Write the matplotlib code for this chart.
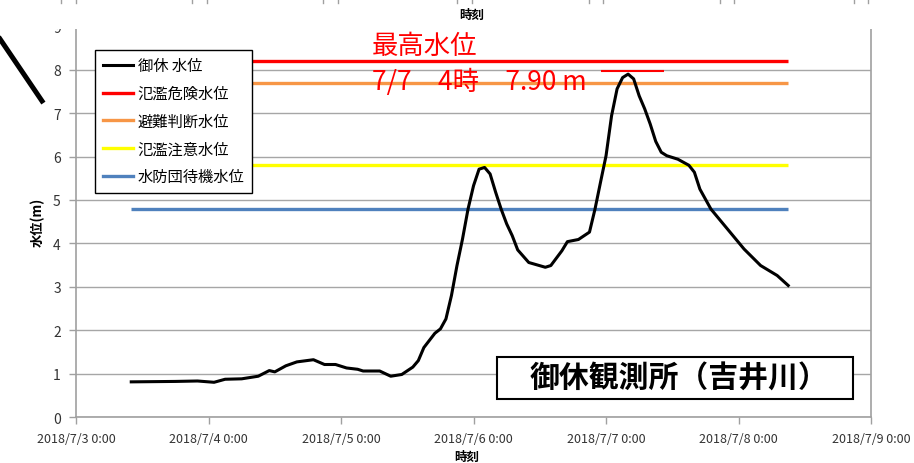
import pandas as pd
import matplotlib.pyplot as plt
import matplotlib.dates as mdates
from matplotlib.lines import Line2D
from matplotlib.patches import Rectangle

plt.rcParams['font.family'] = ['Noto Sans CJK JP', 'DejaVu Sans']

# 御休観測所の水位 (m)
times = [
    "2018-07-03 10:00", "2018-07-03 18:00", "2018-07-03 22:00", "2018-07-04 01:00",
    "2018-07-04 03:00", "2018-07-04 06:00", "2018-07-04 09:00", "2018-07-04 11:00",
    "2018-07-04 12:00", "2018-07-04 14:00", "2018-07-04 16:00", "2018-07-04 19:00",
    "2018-07-04 21:00", "2018-07-04 23:00", "2018-07-05 01:00", "2018-07-05 03:00",
    "2018-07-05 04:00", "2018-07-05 07:00", "2018-07-05 09:00", "2018-07-05 11:00",
    "2018-07-05 13:00", "2018-07-05 14:00", "2018-07-05 15:00", "2018-07-05 17:00",
    "2018-07-05 18:00", "2018-07-05 19:00", "2018-07-05 20:00", "2018-07-05 21:00",
    "2018-07-05 22:00", "2018-07-05 23:00", "2018-07-06 00:00", "2018-07-06 01:00",
    "2018-07-06 02:00", "2018-07-06 03:00", "2018-07-06 04:00", "2018-07-06 05:00",
    "2018-07-06 06:00", "2018-07-06 07:00", "2018-07-06 08:00", "2018-07-06 10:00",
    "2018-07-06 13:00", "2018-07-06 14:00", "2018-07-06 16:00", "2018-07-06 17:00",
    "2018-07-06 19:00", "2018-07-06 21:00", "2018-07-06 22:00", "2018-07-06 23:00",
    "2018-07-07 00:00", "2018-07-07 01:00", "2018-07-07 02:00", "2018-07-07 03:00",
    "2018-07-07 04:00", "2018-07-07 05:00", "2018-07-07 06:00", "2018-07-07 07:00",
    "2018-07-07 08:00", "2018-07-07 09:00", "2018-07-07 10:00", "2018-07-07 11:00",
    "2018-07-07 13:00", "2018-07-07 15:00", "2018-07-07 16:00", "2018-07-07 17:00",
    "2018-07-07 19:00", "2018-07-07 22:00", "2018-07-08 01:00", "2018-07-08 04:00",
    "2018-07-08 07:00", "2018-07-08 09:00",
]
levels = [
    0.81, 0.82, 0.83, 0.80,
    0.87, 0.88, 0.94, 1.07,
    1.04, 1.18, 1.27, 1.32,
    1.21, 1.21, 1.13, 1.10,
    1.06, 1.06, 0.94, 0.98,
    1.15, 1.30, 1.60, 1.93,
    2.03, 2.26, 2.80, 3.49,
    4.10, 4.79, 5.33, 5.71,
    5.75, 5.60, 5.18, 4.79,
    4.45, 4.18, 3.85, 3.56,
    3.45, 3.49, 3.83, 4.04,
    4.09, 4.26, 4.79, 5.41,
    6.02, 6.94, 7.56, 7.82,
    7.90, 7.79, 7.40, 7.10,
    6.75, 6.35, 6.10, 6.02,
    5.94, 5.80, 5.64, 5.25,
    4.79, 4.33, 3.87, 3.49,
    3.26, 3.03,
]

# 基準水位
ref_names = ["氾濫危険水位", "避難判断水位", "氾濫注意水位", "水防団待機水位"]
ref_values = [8.2, 7.7, 5.8, 4.8]
ref_colors = ["#FF0000", "#F79646", "#FFFF00", "#4F81BD"]

t = pd.to_datetime(times)
s = pd.Series(levels, index=t)
peak_t = s.idxmax()
peak_v = s.max()

fig = plt.figure(figsize=(9.14, 4.64), dpi=100)
ax = fig.add_axes([0.0832, 0.0991, 0.8698, 0.8419])

for v, c in zip(ref_values, ref_colors):
    ax.hlines(v, t[0], t[-1], colors=c, lw=2.4, zorder=3)
ax.plot(t, levels, color="black", lw=2.2, solid_joinstyle="round", zorder=4)

# 最高水位の目印
ax.hlines(peak_v + 0.08, peak_t - pd.Timedelta(hours=5), peak_t + pd.Timedelta(hours=6.5),
          colors="#FF0000", lw=1.5, zorder=4)
ax.text(0.372, 0.952, "最高水位", transform=ax.transAxes, color="#FF0000",
        fontsize=19, va="center", ha="left", zorder=6)
ax.text(0.372, 0.858, f"{peak_t.month}/{peak_t.day}　{peak_t.hour}時　{peak_v:.2f} m",
        transform=ax.transAxes, color="#FF0000", fontsize=19, va="center", ha="left", zorder=6)

# 観測所名
ax.add_patch(Rectangle((0.5296, 0.0461), 0.4478, 0.1075, transform=ax.transAxes,
                       fc="white", ec="black", lw=1.5, zorder=5))
ax.text(0.7585, 0.0998, "御休観測所（吉井川）", transform=ax.transAxes, fontsize=21.5,
        fontweight="bold", ha="center", va="center", zorder=6)

ax.set_ylim(0, 9)
ax.set_yticks(range(0, 10))
ax.set_xlim(pd.Timestamp("2018-07-03"), pd.Timestamp("2018-07-09"))
ax.xaxis.set_major_locator(mdates.DayLocator())
ax.xaxis.set_major_formatter(plt.FuncFormatter(
    lambda x, pos: (lambda d: f"{d.year}/{d.month}/{d.day} {d.hour}:{d.minute:02d}")(mdates.num2date(x))))

ax.grid(axis="y", color="#A6A6A6", lw=1.0, zorder=0)
ax.set_axisbelow(True)
for side in ["left", "right", "bottom"]:
    ax.spines[side].set_color("#A0A0A0")
    ax.spines[side].set_linewidth(1.2)
ax.spines["top"].set_visible(False)
ax.tick_params(axis="both", colors="#A0A0A0", length=5, width=1, labelcolor="#333333")
ax.tick_params(axis="y", labelsize=10, pad=6)
ax.tick_params(axis="x", labelsize=9, pad=6)
ax.set_ylabel("水位(m)", fontsize=9.5, fontweight="bold", labelpad=6)

handles = [Line2D([], [], color="black", lw=2.2)]
handles += [Line2D([], [], color=c, lw=2.4) for c in ref_colors]
leg = ax.legend(handles, ["御休 水位"] + ref_names, loc="upper left",
                bbox_to_anchor=(0.024, 0.94), borderaxespad=0, fontsize=11,
                handlelength=2.0, handletextpad=0.3, labelspacing=0.7,
                borderpad=0.5, frameon=True, fancybox=False, edgecolor="black",
                framealpha=1)
leg.get_frame().set_linewidth(1.0)
leg.set_zorder(7)

fig.text(467 / 914, 1 - 457 / 464, "時刻", fontsize=9, fontweight="bold",
         ha="center", va="center")

# 上側の余白（上のグラフの切れ端）
fig.add_artist(Rectangle((0, 1 - 29.5 / 464), 1, 29.5 / 464, transform=fig.transFigure,
                         fc="white", ec="none", zorder=10))
for px in [61, 76, 192, 207, 323, 338, 457, 472, 589, 603, 720, 734, 854, 868]:
    fig.add_artist(Line2D([px / 914, px / 914], [1, 1 - 4 / 464], transform=fig.transFigure,
                          color="#A0A0A0", lw=1, zorder=11))
fig.text(472 / 914, 1 - 15 / 464, "時刻", fontsize=9, fontweight="bold",
         ha="center", va="center", zorder=11)
fig.add_artist(Line2D([0, 42 / 914], [1 - 40 / 464, 1 - 102 / 464], transform=fig.transFigure,
                      color="black", lw=3.6, zorder=11))

fig.savefig("out.png", dpi=100)
